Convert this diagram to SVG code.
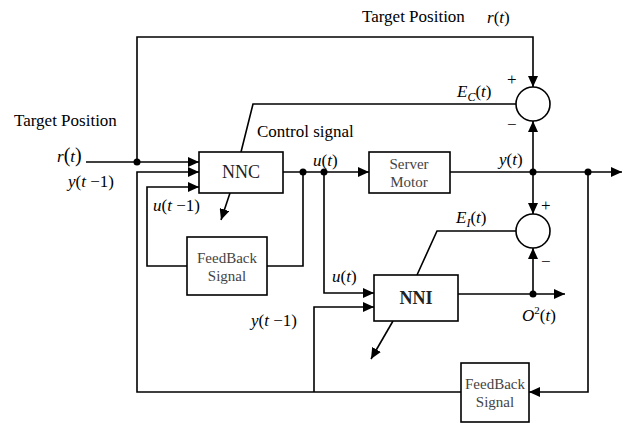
<svg xmlns="http://www.w3.org/2000/svg" width="630" height="423" viewBox="0 0 630 423">
<defs>
<marker id="ah" markerUnits="userSpaceOnUse" markerWidth="12" markerHeight="10" refX="11" refY="5" orient="auto">
<path d="M0,0 L11,5 L0,10 Z" fill="#000"/>
</marker>
<style>
text{font-family:'Liberation Serif','Times New Roman','DejaVu Serif',serif}
.c{fill:none;stroke:#000;stroke-width:1.6}
.a{marker-end:url(#ah)}
.box{fill:#fff;stroke:#000;stroke-width:1.6}
.t{font-size:17px;fill:#000}
.v{font-size:17px;font-style:italic;fill:#000}
.n{font-size:15px;fill:#444;text-anchor:middle}
.lb{font-size:18px;fill:#222;text-anchor:middle}
.d{fill:#000}
</style>
</defs>
<rect width="630" height="423" fill="#fff"/>
<g id="connectors">
<path class="c a" d="M86,162 H199"/>
<path class="c a" d="M137,162 V37 H533 V87"/>
<path class="c a" d="M461,392 H137 V172 H199"/>
<path class="c a" d="M314,392 V307 H374"/>
<path class="c a" d="M283,172 H369"/>
<path class="c" d="M303,172 V266 H267"/>
<path class="c a" d="M187,266 H147 V187 H199"/>
<path class="c a" d="M324,172 V293 H374"/>
<path class="c a" d="M450,172 H622"/>
<path class="c a" d="M533,172 V121"/>
<path class="c a" d="M533,172 V214"/>
<path class="c a" d="M588,172 V392 H529"/>
<path class="c a" d="M458,294 H565"/>
<path class="c a" d="M533,294 V248"/>
<path class="c" d="M516,104 H253 L241,152"/>
<path class="c" d="M516,231 H437 L417,275"/>
<path class="c a" d="M230,193 L221,220"/>
<path class="c a" d="M393,321 L371,359"/>
<circle class="d" cx="137" cy="162" r="3.5"/>
<circle class="d" cx="303" cy="172" r="3.5"/>
<circle class="d" cx="324" cy="172" r="3.5"/>
<circle class="d" cx="533" cy="172" r="3.5"/>
<circle class="d" cx="588" cy="172" r="3.5"/>
<circle class="d" cx="533" cy="294" r="3.5"/>
</g>
<g id="sum1">
<circle cx="533" cy="104" r="17" fill="#fff" stroke="#000" stroke-width="1.6"/>
<text class="t" x="507" y="85">+</text>
<text class="t" x="507" y="130">−</text>
</g>
<g id="sum2">
<circle cx="533" cy="231" r="17" fill="#fff" stroke="#000" stroke-width="1.6"/>
<text class="t" x="541" y="211">+</text>
<text class="t" x="541" y="267">−</text>
</g>
<g id="nnc">
<rect class="box" x="199" y="152" width="84" height="41"/>
<text class="lb" x="241" y="178">NNC</text>
</g>
<g id="motor">
<rect class="box" x="369" y="152" width="81" height="41"/>
<text class="n" x="409" y="169">Server</text>
<text class="n" x="409" y="187">Motor</text>
</g>
<g id="feedback1">
<rect class="box" x="187" y="237" width="80" height="58"/>
<text class="n" x="227" y="263">FeedBack</text>
<text class="n" x="227" y="281">Signal</text>
</g>
<g id="nni">
<rect class="box" x="374" y="275" width="84" height="46"/>
<text class="lb" x="416" y="304" font-weight="bold">NNI</text>
</g>
<g id="feedback2">
<rect class="box" x="461" y="363" width="68" height="59"/>
<text class="n" x="495" y="389">FeedBack</text>
<text class="n" x="495" y="407">Signal</text>
</g>
<g id="labels">
<text class="t" x="362" y="22">Target Position</text>
<text class="v" x="487" y="23">r<tspan font-style="normal">(</tspan>t<tspan font-style="normal">)</tspan></text>
<text class="t" x="14" y="126">Target Position</text>
<text class="t" x="257" y="137">Control signal</text>
<text class="v" x="57" y="162" font-size="18">r<tspan font-style="normal" font-size="20">(</tspan>t<tspan font-style="normal" font-size="20">)</tspan></text>
<text class="v" x="68" y="187">y<tspan font-style="normal">(</tspan>t<tspan font-style="normal"> −1)</tspan></text>
<text class="v" x="153" y="211">u<tspan font-style="normal">(</tspan>t<tspan font-style="normal"> −1)</tspan></text>
<text class="v" x="313" y="166">u<tspan font-style="normal">(</tspan>t<tspan font-style="normal">)</tspan></text>
<text class="v" x="457" y="97">E<tspan font-size="12" dy="4">C</tspan><tspan font-style="normal" dy="-4">(</tspan>t<tspan font-style="normal">)</tspan></text>
<text class="v" x="499" y="165">y<tspan font-style="normal">(</tspan>t<tspan font-style="normal">)</tspan></text>
<text class="v" x="456" y="223">E<tspan font-size="12" dy="4">I</tspan><tspan font-style="normal" dy="-4">(</tspan>t<tspan font-style="normal">)</tspan></text>
<text class="v" x="332" y="282">u<tspan font-style="normal">(</tspan>t<tspan font-style="normal">)</tspan></text>
<text class="v" x="251" y="326">y<tspan font-style="normal">(</tspan>t<tspan font-style="normal"> −1)</tspan></text>
<text class="v" x="522" y="321">O<tspan font-style="normal" font-size="11" dy="-7">2</tspan><tspan font-style="normal" dy="7">(</tspan>t<tspan font-style="normal">)</tspan></text>
</g>
</svg>
